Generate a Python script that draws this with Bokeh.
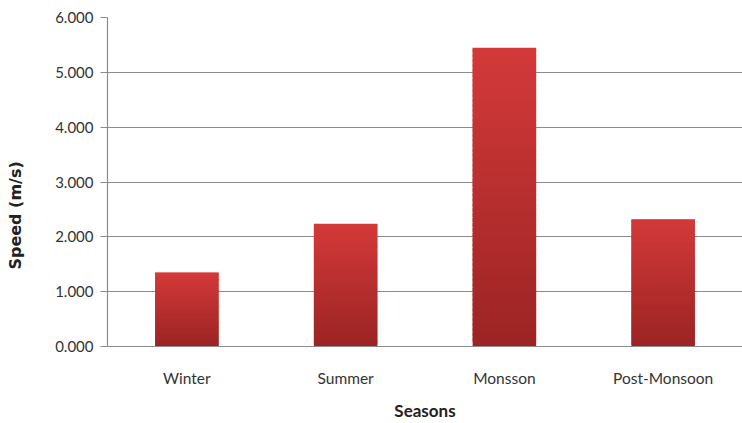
from bokeh.plotting import figure
from bokeh.models import NumeralTickFormatter, Range1d, FixedTicker, ColumnDataSource
from bokeh.embed import file_html
from bokeh.resources import INLINE

seasons = ["Winter", "Summer", "Monsson", "Post-Monsoon"]
speed = [1.35, 2.24, 5.45, 2.32]
y_ticks = [0, 1, 2, 3, 4, 5, 6]

top_rgb = (212, 58, 58)
bot_rgb = (156, 36, 36)
N = 60

xs, bottoms, tops, colors = [], [], [], []
for s, v in zip(seasons, speed):
    for i in range(N):
        f = (i + 0.5) / N
        r = int(bot_rgb[0] + (top_rgb[0] - bot_rgb[0]) * f)
        g = int(bot_rgb[1] + (top_rgb[1] - bot_rgb[1]) * f)
        b = int(bot_rgb[2] + (top_rgb[2] - bot_rgb[2]) * f)
        xs.append(s)
        bottoms.append(v * i / N)
        tops.append(v * min(i + 1.8, N) / N)
        colors.append("#%02x%02x%02x" % (r, g, b))

src = ColumnDataSource(dict(x=xs, bottom=bottoms, top=tops, color=colors))

p = figure(x_range=seasons, y_range=Range1d(0, 6), width=742, height=423,
           output_backend="svg", toolbar_location=None,
           min_border_left=107, min_border_right=0, min_border_top=17, min_border_bottom=76)
p.outline_line_color = None
p.background_fill_color = "white"

p.vbar(x="x", bottom="bottom", top="top", width=0.4, source=src,
       fill_color="color", line_color=None)

p.yaxis.ticker = FixedTicker(ticks=y_ticks)
p.yaxis.formatter = NumeralTickFormatter(format="0.000")
p.ygrid.ticker = FixedTicker(ticks=y_ticks)
p.ygrid.grid_line_color = "#8c8c8c"
p.ygrid.grid_line_width = 1.2
p.xgrid.grid_line_color = None

for ax in (p.xaxis, p.yaxis):
    ax.axis_line_color = "#8c8c8c"
    ax.axis_line_width = 1.2
    ax.major_tick_line_color = "#8c8c8c"
    ax.minor_tick_line_color = None
    ax.major_label_text_font = "Lato"
    ax.major_label_text_color = "#333333"

p.yaxis.major_label_text_font_size = "15px"
p.xaxis.major_label_text_font_size = "15.5px"
p.yaxis.major_tick_in = 0
p.yaxis.major_tick_out = 7
p.yaxis.major_label_standoff = 7
p.xaxis.major_tick_in = 0
p.xaxis.major_tick_out = 0
p.xaxis.major_label_standoff = 22
p.xaxis.axis_label = "Seasons"
p.xaxis.axis_label_text_font = "Lato"
p.xaxis.axis_label_text_font_style = "bold"
p.xaxis.axis_label_text_font_size = "17px"
p.xaxis.axis_label_text_color = "#222222"
p.xaxis.axis_label_standoff = 10

# trailing no-break spaces shift the centred label down to where the reference has it
p.yaxis.axis_label = "Speed (m/s)" + "\u00a0" * 12
p.yaxis.axis_label_text_font = "DejaVu Sans"
p.yaxis.axis_label_text_font_style = "bold"
p.yaxis.axis_label_text_font_size = "16px"
p.yaxis.axis_label_text_color = "#222222"
p.yaxis.axis_label_standoff = 27

open("out.html", "w").write(file_html(p, INLINE))
